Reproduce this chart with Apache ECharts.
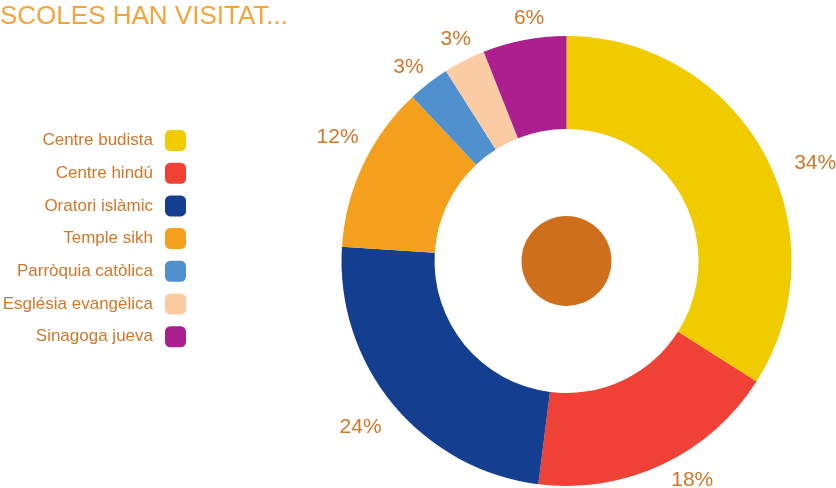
<!DOCTYPE html>
<html>
<head>
<meta charset="utf-8">
<script src="https://cdn.jsdelivr.net/npm/echarts@6/dist/echarts.min.js"></script>
<style>
  html, body { margin: 0; padding: 0; background: #fff; }
  #chart { width: 836px; height: 488px; }
</style>
</head>
<body>
<div id="chart"></div>
<script>
const categories = ['Centre budista', 'Centre hindú', 'Oratori islàmic', 'Temple sikh', 'Parròquia catòlica', 'Església evangèlica', 'Sinagoga jueva']
const values = [34, 18, 24, 12, 3, 3, 6]
const colors = ['#F0CB00', '#EF4136', '#143E8F', '#F5A01D', '#5090CF', '#FBCBA3', '#AC1F8E']
// 百分比标签相对默认位置的微调
const labelOffsets = [[27, 24], [18, -10], [-11, 5], [0, -16], [-3, 6], [4, 4], [10, 6]]

const labelColor = '#D0772A'
const font = '"Liberation Sans", Arial, sans-serif'
const center = [566.5, 261]

const chart = echarts.init(document.getElementById('chart'))
chart.setOption({
  animation: false,
  title: {
    text: 'SCOLES HAN VISITAT...',
    left: 0,
    top: 4,
    padding: 0,
    textStyle: { color: '#F6A33A', fontSize: 26, fontWeight: 'normal', fontFamily: font }
  },
  legend: {
    orient: 'vertical',
    right: 650,
    top: 130,
    padding: 0,
    align: 'right',
    itemWidth: 21,
    itemHeight: 21,
    itemGap: 11.7,
    icon: 'roundRect',
    itemStyle: { borderWidth: 0 },
    data: categories,
    textStyle: { color: labelColor, fontSize: 17, fontFamily: font, padding: [0, 7, 0, 0] }
  },
  series: [
    {
      // 主环
      type: 'pie',
      center: center,
      radius: [132, 225],
      startAngle: 90,
      clockwise: true,
      itemStyle: { borderWidth: 0 },
      label: { show: false },
      labelLine: { show: false },
      data: categories.map((name, i) => ({ name, value: values[i], itemStyle: { color: colors[i] } }))
    },
    {
      // 透明环，只用来放百分比标签
      type: 'pie',
      center: center,
      radius: [237, 263],
      startAngle: 90,
      silent: true,
      itemStyle: { color: 'transparent', borderWidth: 0 },
      label: {
        show: true,
        position: 'inside',
        formatter: '{c}%',
        color: labelColor,
        fontSize: 21,
        fontFamily: font
      },
      labelLine: { show: false },
      data: categories.map((name, i) => ({
        name: name + ' ',
        value: values[i],
        label: { offset: labelOffsets[i] }
      }))
    },
    {
      // 中心圆点
      type: 'pie',
      center: center,
      radius: [0, 45],
      silent: true,
      label: { show: false },
      labelLine: { show: false },
      itemStyle: { color: '#CE6F1C', borderWidth: 0 },
      data: [{ name: 'centre', value: 1 }]
    }
  ]
})
</script>
</body>
</html>
